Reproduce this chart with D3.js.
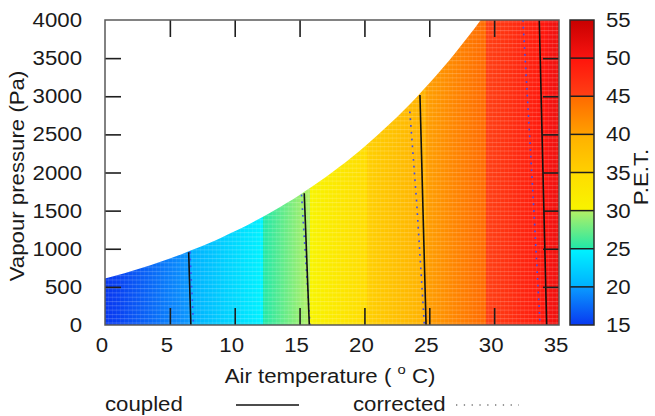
<!DOCTYPE html>
<html><head><meta charset="utf-8">
<script src="https://cdn.jsdelivr.net/npm/d3@7"></script>
<style>
html,body{margin:0;padding:0;background:#fff;}
svg{display:block;font-family:"Liberation Sans",Arial,sans-serif;}
</style>
</head><body>
<svg id="chart" width="655" height="416"></svg>
<script>
// ---- data ----
const airTemp = [0,1,2,3,4,5,6,7,8,9,10,11,12,13,14,15,16,17,18,19,20,21,22,23,24,25,26,27,28,29,30,31,32,33,34,35];
const petAtTemp = [14.8,15.5,16.3,17.0,17.8,18.6,19.4,20.3,21.2,22.1,23.0,23.8,24.7,26.2,27.6,29.0,30.3,31.5,32.6,33.7,34.8,35.9,37.0,38.1,39.2,40.3,41.4,42.5,43.5,44.6,45.6,46.6,47.7,48.8,49.9,51.0];
const saturationVp = [611,657,706,758,813,872,935,1002,1073,1148,1228,1313,1403,1498,1599,1706,1819,1938,2064,2198,2339,2488,2645,2810,2985,3169,3363,3567,3782,4008,4246,4495,4758,5034,5323,5627];
const xTicks = [0,5,10,15,20,25,30,35];
const yTicks = [0,500,1000,1500,2000,2500,3000,3500,4000];
const petTicks = [15,20,25,30,35,40,45,50,55];
const coupledContours = [
  [[6.45,955],[6.62,0]],
  [[15.36,1727],[15.75,0]],
  [[24.28,3016],[24.75,0]],
  [[33.48,4000],[34.05,0]]
];
const correctedContours = [
  [[6.55,960],[6.82,0]],
  [[15.15,1710],[15.8,0]],
  [[23.5,2800],[24.03,1600],[24.62,0]],
  [[32.22,4000],[33.02,1640],[33.54,0]]
];
// colour palette (one gradient per 5-unit band)
const bandLow  = ["#0838f0","#00b0ff","#20e8a8","#f8f400","#ffd000","#ffa000","#ff4014","#f81410"];
const bandHigh = ["#0a9cff","#00f4ff","#b4f064","#ffdc00","#ffb000","#ff6a00","#ff140c","#c80000"];

// ---- layout ----
const L = 105, R = 559, T = 20, B = 325;
const cbL = 570, cbR = 594;
const svg = d3.select("#chart");
const x = d3.scaleLinear([0,35],[L,R]);
const y = d3.scaleLinear([0,4000],[B,T]);
const cb = d3.scaleLinear([15,55],[B,T]);
const SX = 1.14, FS = 19.5, TXT = "#1a1a1a";

function petColor(v){
  v = Math.max(15, Math.min(55, v));
  let i = Math.min(7, Math.floor((v-15)/5));
  const t = (v - 15 - 5*i)/5;
  return d3.interpolateRgb(bandLow[i], bandHigh[i])(t);
}
function label(sel, px, py, text, anchor, rot){
  return sel.append("text")
    .attr("transform", `translate(${px},${py}) rotate(${rot||0}) scale(${SX},1)`)
    .attr("text-anchor", anchor).attr("font-size", FS).attr("fill", TXT).text(text);
}

const defs = svg.append("defs");
// heatmap gradient along temperature
const stops = [];
for (let i = 0; i < airTemp.length; i++) {
  stops.push({t: airTemp[i], c: petColor(petAtTemp[i])});
  if (i < airTemp.length-1) {
    const p0 = petAtTemp[i], p1 = petAtTemp[i+1];
    petTicks.slice(1,-1).forEach(b => {
      if (p0 < b && b < p1) {
        const tc = airTemp[i] + (b-p0)/(p1-p0)*(airTemp[i+1]-airTemp[i]);
        stops.push({t: tc, c: petColor(b-1e-6)});
        stops.push({t: tc, c: petColor(b)});
      }
    });
  }
}
const hg = defs.append("linearGradient").attr("id","heatGrad")
  .attr("gradientUnits","userSpaceOnUse").attr("x1",x(0)).attr("x2",x(35)).attr("y1",0).attr("y2",0);
hg.selectAll("stop").data(stops).join("stop")
  .attr("offset", d => (x(d.t)-x(0))/(x(35)-x(0)))
  .attr("stop-color", d => d.c);

// colourbar gradient (vertical)
const cstops = [];
for (let i = 0; i < 8; i++) {
  cstops.push({v: petTicks[i], c: bandLow[i]});
  cstops.push({v: petTicks[i+1], c: bandHigh[i]});
}
const cg = defs.append("linearGradient").attr("id","cbGrad")
  .attr("gradientUnits","userSpaceOnUse").attr("x1",0).attr("x2",0).attr("y1",cb(15)).attr("y2",cb(55));
cg.selectAll("stop").data(cstops).join("stop")
  .attr("offset", d => (d.v-15)/40).attr("stop-color", d => d.c);

// clips
defs.append("clipPath").attr("id","plotClip").append("rect")
  .attr("x",L).attr("y",T).attr("width",R-L).attr("height",B-T);
const satArea = d3.area().x(d => x(d[0])).y0(y(0)).y1(d => y(d[1])).curve(d3.curveMonotoneX);
defs.append("clipPath").attr("id","satClip").append("path")
  .attr("d", satArea(airTemp.map((t,i) => [t, saturationVp[i]])));

// stripe texture of the raster
const pat = defs.append("pattern").attr("id","stripes").attr("patternUnits","userSpaceOnUse")
  .attr("width",4).attr("height",4.3);
pat.append("rect").attr("x",0).attr("y",0).attr("width",4).attr("height",1).attr("fill","#fff").attr("opacity",0.2);
pat.append("rect").attr("x",0).attr("y",0).attr("width",1).attr("height",4.3).attr("fill","#fff").attr("opacity",0.07);

// heatmap
const plot = svg.append("g").attr("clip-path","url(#plotClip)");
const heat = plot.append("g").attr("clip-path","url(#satClip)");
heat.append("rect").attr("x",L).attr("y",T).attr("width",R-L).attr("height",B-T).attr("fill","url(#heatGrad)");
heat.append("rect").attr("x",L).attr("y",T).attr("width",R-L).attr("height",B-T).attr("fill","url(#stripes)");

// contour lines
const line = d3.line().x(d => x(d[0])).y(d => y(d[1]));
plot.selectAll(".corr").data(correctedContours).join("path").attr("class","corr")
  .attr("d", line).attr("fill","none").attr("stroke","#3c4cf0").attr("stroke-width",1.6)
  .attr("stroke-dasharray","1.8,5");
plot.selectAll(".coup").data(coupledContours).join("path").attr("class","coup")
  .attr("d", line).attr("fill","none").attr("stroke","#111").attr("stroke-width",1.6);

// axes (inward ticks, mirrored)
function styleAxis(g){
  g.select(".domain").remove();
  g.selectAll(".tick line").attr("stroke","#1e1e1e").attr("stroke-width",1.6);
  g.selectAll(".tick text").remove();
}
const inner = xTicks.slice(1,-1), innerY = yTicks.slice(1,-1);
svg.append("g").attr("transform",`translate(0,${B})`)
  .call(d3.axisBottom(x).tickValues(inner).tickSize(-17).tickSizeOuter(0)).call(styleAxis);
svg.append("g").attr("transform",`translate(0,${T})`)
  .call(d3.axisTop(x).tickValues(inner).tickSize(-17).tickSizeOuter(0)).call(styleAxis);
svg.append("g").attr("transform",`translate(${L},0)`)
  .call(d3.axisLeft(y).tickValues(innerY).tickSize(-16).tickSizeOuter(0)).call(styleAxis);
svg.append("g").attr("transform",`translate(${R},0)`)
  .call(d3.axisRight(y).tickValues(innerY).tickSize(-16).tickSizeOuter(0)).call(styleAxis);
svg.append("rect").attr("x",L).attr("y",T).attr("width",R-L).attr("height",B-T)
  .attr("fill","none").attr("stroke","#5a5a5a").attr("stroke-width",1.5);

// tick labels
xTicks.forEach(v => label(svg, x(v)-3, 352, String(v), "middle"));
yTicks.forEach(v => label(svg, 82, y(v)+7, String(v), "end"));

// colourbar
svg.append("rect").attr("x",cbL).attr("y",T).attr("width",cbR-cbL).attr("height",B-T).attr("fill","url(#cbGrad)");
svg.selectAll(".cbline").data(petTicks.slice(1,-1)).join("line").attr("class","cbline")
  .attr("x1",cbL).attr("x2",cbR).attr("y1",d => cb(d)).attr("y2",d => cb(d))
  .attr("stroke","#1e1e1e").attr("stroke-width",1.5);
svg.append("rect").attr("x",cbL).attr("y",T).attr("width",cbR-cbL).attr("height",B-T)
  .attr("fill","none").attr("stroke","#2a2a2a").attr("stroke-width",1.5);
petTicks.forEach(v => label(svg, 606, cb(v)+7, String(v), "start"));

// axis titles
const xt = svg.append("text")
  .attr("transform",`translate(330,383) scale(${SX},1)`)
  .attr("text-anchor","middle").attr("font-size",FS).attr("fill",TXT);
xt.append("tspan").text("Air temperature ( ");
xt.append("tspan").attr("font-size",13).attr("dy",-9).text("o");
xt.append("tspan").attr("dy",9).text(" C)");
label(svg, 24, 176, "Vapour pressure (Pa)", "middle", -90);
label(svg, 648, 177, "P.E.T.", "middle", -90);

// legend
label(svg, 105, 411, "coupled", "start");
svg.append("line").attr("x1",236).attr("x2",299).attr("y1",405).attr("y2",405)
  .attr("stroke","#111").attr("stroke-width",1.3);
label(svg, 353, 411, "corrected", "start");
svg.append("line").attr("x1",456).attr("x2",519).attr("y1",405).attr("y2",405)
  .attr("stroke","#777").attr("stroke-width",1.4).attr("stroke-dasharray","1.3,6.5");
</script>
</body></html>
